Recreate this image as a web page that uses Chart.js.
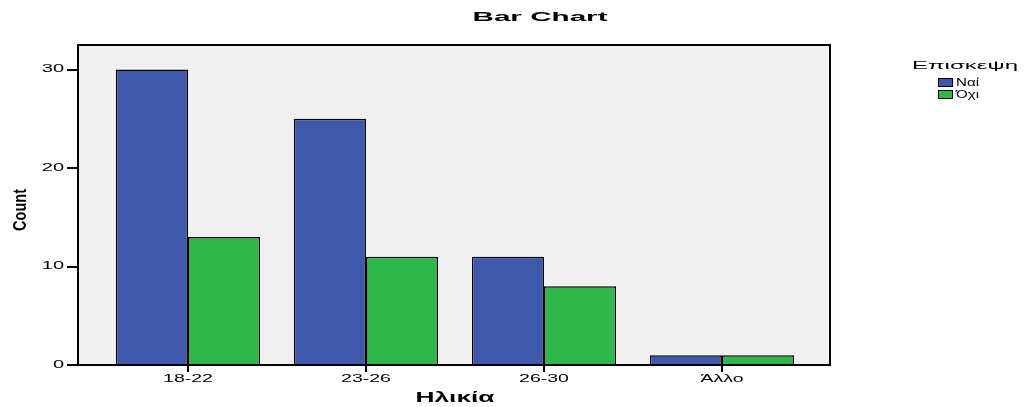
<!DOCTYPE html>
<html>
<head>
<meta charset="utf-8">
<script src="https://cdn.jsdelivr.net/npm/chart.js@4/dist/chart.umd.min.js"></script>
<style>
body { margin: 0; background: #fff; }
#wrap { width: 1024px; height: 407px; }
</style>
</head>
<body>
<div id="wrap"><canvas id="chart"></canvas></div>
<script>
const ageGroups = ["18-22", "23-26", "26-30", "Άλλο"];
const yesCounts = [30, 25, 11, 1];
const noCounts = [13, 11, 8, 1];
const seriesNames = ["Ναί", "Όχι"];
const seriesColors = ["#3e58ac", "#2eb84b"];
const yTicks = [0, 10, 20, 30];

const FONT = "'Liberation Sans', Arial, sans-serif";

// draws text squeezed/stretched horizontally, SPSS output looks wide
function drawText(ctx, text, x, y, font, opts)
{
    opts = opts || {};
    ctx.save();
    ctx.font = font;
    ctx.fillStyle = "#000";
    ctx.textBaseline = "middle";
    ctx.textAlign = opts.align || "center";
    let sx = opts.sx || 1;
    if(opts.width)
    {
        sx = opts.width / ctx.measureText(text).width;
    }
    ctx.translate(x, y);
    if(opts.rotate) ctx.rotate(opts.rotate);
    ctx.scale(sx, 1);
    ctx.fillText(text, 0, 0);
    ctx.restore();
}

const frame = {
    id: "frame",
    beforeDatasetsDraw(chart)
    {
        const {ctx, chartArea: a} = chart;
        ctx.save();
        ctx.fillStyle = "#f0f0f0";
        ctx.fillRect(a.left, a.top, a.right - a.left, a.bottom - a.top);
        ctx.restore();
    },
    afterDraw(chart)
    {
        const {ctx, chartArea: a} = chart;
        ctx.save();
        ctx.strokeStyle = "#000";
        ctx.lineWidth = 2;
        ctx.strokeRect(a.left, a.top, a.right - a.left, a.bottom - a.top);
        ctx.restore();

        const xs = chart.scales.x;
        const ys = chart.scales.y;
        ys.ticks.forEach(t => {
            drawText(ctx, String(t.value), 64, ys.getPixelForValue(t.value), "10px " + FONT, {align: "right", sx: 2});
        });
        xs.ticks.forEach(t => {
            drawText(ctx, ageGroups[t.value], xs.getPixelForValue(t.value), 379, "10px " + FONT, {sx: 1.95});
        });

        drawText(ctx, "Bar Chart", 540, 17, "bold 13px " + FONT, {width: 135});
        drawText(ctx, "Ηλικία", 455, 398, "bold 15px " + FONT, {width: 79});
        drawText(ctx, "Count", 21, 210, "bold 19px 'Liberation Sans Narrow', " + FONT, {rotate: -Math.PI / 2, width: 42});

        // legend
        drawText(ctx, "Επισκεψη", 965, 66, "11px " + FONT, {width: 106});
        seriesNames.forEach((name, i) => {
            const y = 78 + i * 12;
            ctx.save();
            ctx.fillStyle = seriesColors[i];
            ctx.fillRect(938, y, 15, 9);
            ctx.strokeStyle = "#000";
            ctx.lineWidth = 1;
            ctx.strokeRect(938.5, y + 0.5, 14, 8);
            ctx.restore();
            drawText(ctx, name, 956, y + 5, "10px " + FONT, {align: "left", width: 23});
        });
    }
};

function toPoints(values)
{
    return values.map((v, i) => ({x: i, y: v}));
}

const chart = new Chart(document.getElementById("chart"), {
    type: "bar",
    data: {
        datasets: [{
            label: seriesNames[0],
            data: toPoints(yesCounts),
            backgroundColor: seriesColors[0],
            borderColor: "#000",
            borderWidth: 1.5
        }, {
            label: seriesNames[1],
            data: toPoints(noCounts),
            backgroundColor: seriesColors[1],
            borderColor: "#000",
            borderWidth: 1.5
        }]
    },
    options: {
        responsive: true,
        maintainAspectRatio: false,
        animation: false,
        datasets: {
            bar: {
                categoryPercentage: 0.81,
                barPercentage: 1
            }
        },
        layout: {
            padding: {top: 45, right: 194, left: 0, bottom: 0}
        },
        plugins: {
            legend: {display: false},
            title: {display: false},
            tooltip: {enabled: false}
        },
        scales: {
            x: {
                type: "linear",
                offset: false,
                min: -0.618,
                max: 3.607,
                afterBuildTicks: scale => {
                    scale.ticks = ageGroups.map((_, i) => ({value: i}));
                },
                afterFit: scale => {
                    scale.height = 42;
                },
                grid: {
                    offset: false,
                    drawOnChartArea: false,
                    drawTicks: true,
                    tickLength: 7,
                    color: "#000",
                    lineWidth: 2
                },
                border: {display: true, color: "#000", width: 2},
                ticks: {color: "rgba(0,0,0,0)"}
            },
            y: {
                min: 0,
                max: 32.5,
                afterBuildTicks: scale => {
                    scale.ticks = yTicks.map(v => ({value: v}));
                },
                afterFit: scale => {
                    scale.width = 78;
                },
                grid: {
                    drawOnChartArea: false,
                    drawTicks: true,
                    tickLength: 11,
                    color: "#000",
                    lineWidth: 2
                },
                border: {display: true, color: "#000", width: 2},
                ticks: {color: "rgba(0,0,0,0)"}
            }
        }
    },
    plugins: [frame]
});
</script>
</body>
</html>
